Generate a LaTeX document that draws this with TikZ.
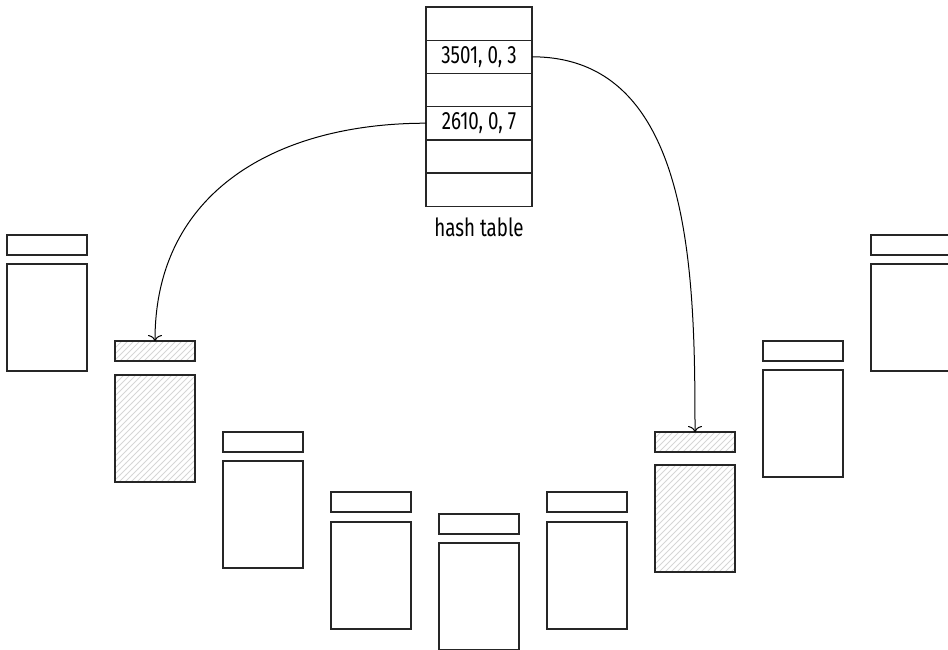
\documentclass[tikz,border=0pt]{standalone}
\usepackage{fontspec}
\setmainfont[FakeStretch=0.75]{Fira Sans}
\usetikzlibrary{positioning,patterns,arrows.meta}

\tikzset{
  slot/.style={draw=black!85, line width=0.7pt, minimum width=53pt, minimum height=16.6pt, inner sep=0pt, outer sep=0pt, font=\fontsize{12.5}{14}\selectfont},
  hdr/.style={draw=black!85, line width=0.7pt, minimum width=40pt, minimum height=10pt, inner sep=0pt, outer sep=0pt, anchor=north west},
  pagebody/.style={draw=black!85, line width=0.7pt, minimum width=40pt, minimum height=53.5pt, inner sep=0pt, outer sep=0pt},
  hatched/.style={pattern=north east lines, pattern color=black!16},
  tone/.code={\ifnum#1=1 \tikzset{hatched}\fi},
  ptr/.style={-{To[length=3pt,width=7pt]}, line width=0.5pt}
}

\begin{document}
\begin{tikzpicture}[x=0.5pt,y=-0.5pt]
  \useasboundingbox (0,0) rectangle (948,649);

  % hash table
  \node[slot, anchor=north west] (h0) at (426,7) {};
  \node[slot, below=0pt of h0] (h1) {3501, 0, 3};
  \node[slot, below=0pt of h1] (h2) {};
  \node[slot, below=0pt of h2] (h3) {2610, 0, 7};
  \node[slot, below=0pt of h3] (h4) {};
  \node[slot, below=0pt of h4] (h5) {};
  \node[below=2pt of h5, font=\fontsize{12.5}{14}\selectfont] (htlabel) {hash table};

  % pages along the arc
  \foreach \i/\x/\y/\g/\h in {0/7/235/4.5pt/0, 1/115/341/7pt/1, 2/223/432/4.5pt/0,
      3/331/492/5pt/0, 4/439/514/4.5pt/0, 5/547/492/5pt/0,
      6/655/432/6.5pt/1, 7/763/341/4.5pt/0, 8/871/235/4.5pt/0} {
    \node[hdr, tone=\h] (hd\i) at (\x,\y) {};
    \node[pagebody, tone=\h, below=\g of hd\i] (pg\i) {};
  }

  \draw[ptr] (h3.west) to[out=180,in=90,looseness=1.1] (hd1.north);
  \draw[ptr] (h1.east) to[out=0,in=90] (hd6.north);
\end{tikzpicture}
\end{document}
